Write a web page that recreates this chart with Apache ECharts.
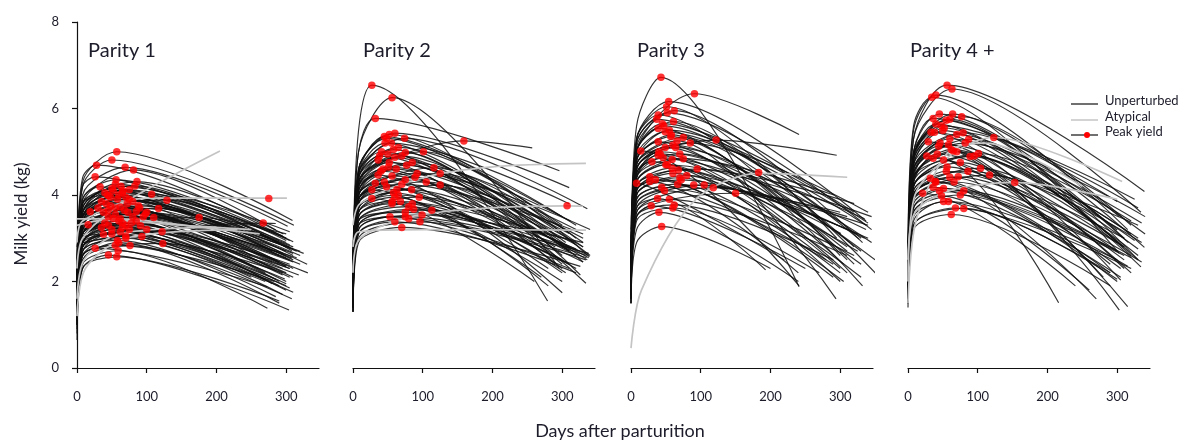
<!DOCTYPE html>
<html>
<head>
<meta charset="utf-8">
<script src="https://cdn.jsdelivr.net/npm/echarts@6/dist/echarts.min.js"></script>
<style>
  html, body { margin: 0; padding: 0; background: #fff; }
  #chart { width: 1193px; height: 442px; }
</style>
</head>
<body>
<div id="chart"></div>
<script>
// Lactation curves, milk yield (kg) against days after parturition.
// Each unperturbed curve: [yield day 0, yield at EARLY_DAY, peak day, peak yield, last day, last yield]
const EARLY_DAY = 8;
const DAY_MAX = 347;
const xTickValues = [0, 100, 200, 300];
const yTickValues = [0, 2, 4, 6, 8];
const panelTitles = ['Parity 1', 'Parity 2', 'Parity 3', 'Parity 4 +'];

const parity1Curves = [
  [2.2, 4.3, 57, 5.0, 309, 3.41], [2.0, 4.2, 50, 4.81, 311, 3.30], [2.5, 4.4, 28, 4.69, 300, 3.0],
  [1.8, 4.0, 69, 4.64, 302, 3.28], [1.6, 3.8, 81, 4.58, 285, 3.19], [2.4, 4.2, 26, 4.42, 290, 2.9],
  [1.7, 3.9, 56, 4.35, 310, 2.92], [1.5, 3.7, 86, 4.31, 296, 3.1], [2.0, 3.9, 33, 4.19, 280, 2.7],
  [1.7, 3.8, 83, 4.21, 308, 2.71], [1.6, 3.6, 107, 4.02, 300, 2.95], [1.4, 3.5, 129, 3.88, 295, 3.05],
  [1.5, 3.5, 117, 3.69, 310, 2.6], [2.6, 3.5, 19, 3.61, 260, 2.3], [1.5, 3.4, 98, 3.56, 308, 2.54],
  [1.4, 3.3, 110, 3.48, 290, 2.45], [1.3, 3.1, 175, 3.48, 300, 3.1], [2.8, 3.3, 16, 3.31, 250, 2.1],
  [1.4, 3.2, 91, 3.29, 331, 2.2], [1.2, 2.9, 122, 3.15, 305, 2.4], [2.0, 3.0, 38, 3.09, 270, 2.0],
  [1.3, 2.8, 93, 3.04, 298, 2.06], [1.5, 2.6, 26, 2.77, 273, 1.88], [1.3, 2.6, 55, 2.84, 283, 2.0],
  [1.1, 2.5, 76, 2.83, 308, 1.6], [1.0, 2.6, 123, 2.88, 295, 2.2], [1.0, 2.4, 59, 2.71, 273, 1.38],
  [0.8, 2.3, 45, 2.61, 304, 1.34], [0.65, 2.3, 57, 2.57, 290, 1.55], [2.5, 2.9, 267, 3.35, 285, 3.34],
  [1.8, 3.6, 40, 4.05, 300, 2.7], [1.7, 3.6, 45, 3.98, 310, 2.5], [1.6, 3.5, 52, 4.1, 305, 2.8],
  [1.9, 3.5, 60, 4.0, 290, 2.6], [1.5, 3.4, 65, 4.05, 300, 2.9], [1.7, 3.4, 70, 3.95, 310, 2.75],
  [1.6, 3.5, 75, 3.9, 295, 2.65], [1.4, 3.3, 80, 3.85, 305, 2.85], [1.8, 3.5, 35, 3.85, 280, 2.45],
  [1.6, 3.4, 42, 3.8, 300, 2.35], [1.5, 3.3, 48, 3.75, 290, 2.4], [1.3, 3.3, 55, 3.7, 305, 2.5],
  [1.7, 3.3, 62, 3.72, 310, 2.3], [1.5, 3.2, 68, 3.65, 285, 2.25], [1.4, 3.2, 73, 3.6, 300, 2.55],
  [1.2, 3.1, 85, 3.62, 310, 2.65], [1.9, 3.3, 30, 3.7, 270, 2.2], [1.6, 3.1, 45, 3.5, 295, 2.15],
  [1.4, 3.0, 52, 3.45, 305, 2.1], [1.3, 3.0, 60, 3.4, 300, 2.2], [1.5, 3.0, 65, 3.35, 280, 1.95],
  [1.2, 2.9, 70, 3.3, 300, 2.0], [1.1, 2.9, 78, 3.35, 310, 2.1], [1.7, 3.1, 40, 3.35, 290, 1.9],
  [1.4, 2.9, 50, 3.2, 305, 1.85], [1.1, 2.8, 62, 3.15, 300, 1.8], [1.3, 2.7, 70, 3.0, 295, 1.7],
  [1.0, 2.7, 58, 2.95, 285, 1.65], [1.8, 3.7, 50, 4.15, 300, 3.0], [1.6, 3.7, 63, 4.2, 305, 3.15],
  [1.5, 3.8, 75, 4.12, 290, 2.95], [2.0, 3.8, 44, 4.0, 250, 2.6], [1.5, 3.2, 88, 3.75, 310, 2.8],
  [1.3, 3.0, 95, 3.5, 300, 2.35], [1.2, 2.8, 100, 3.2, 305, 2.3],
  [1.2, 2.9, 45, 3.3, 300, 1.95], [1.0, 2.7, 50, 3.1, 310, 1.75], [1.4, 3.0, 35, 3.25, 285, 2.05],
  [1.1, 2.8, 65, 3.25, 305, 2.3], [1.3, 3.1, 55, 3.55, 310, 2.45], [1.5, 3.3, 45, 3.65, 300, 2.6],
  [1.2, 3.0, 80, 3.5, 320, 2.4], [1.0, 2.6, 70, 3.05, 300, 1.9], [0.9, 2.5, 60, 2.9, 290, 1.5],
  [1.6, 3.4, 58, 3.9, 320, 2.6], [1.7, 3.6, 66, 4.1, 300, 2.8], [1.4, 3.2, 90, 3.7, 330, 2.4],
  [1.3, 3.1, 100, 3.6, 320, 2.7], [1.2, 2.9, 85, 3.4, 315, 2.55], [1.5, 3.4, 38, 3.6, 295, 2.3],
  [1.6, 3.5, 48, 3.95, 315, 2.7], [1.1, 2.8, 75, 3.2, 318, 2.15], [1.3, 3.0, 62, 3.45, 290, 2.0],
  [1.8, 3.6, 55, 4.25, 305, 2.95], [1.4, 3.3, 72, 3.8, 325, 2.65]
];
const parity1Atypical = [
  [[0, 2.3], [8, 3.0], [60, 3.75], [205, 5.02]],
  [[0, 2.9], [8, 3.4], [100, 3.93], [275, 3.93], [301, 3.93]],
  [[0, 3.3], [40, 3.42], [150, 3.3], [250, 3.2]],
  [[0, 3.45], [60, 3.45], [180, 3.25], [262, 3.1]],
  [[0, 1.6], [10, 2.5], [60, 3.1], [200, 3.25]],
  [[0, 1.2], [12, 2.3], [70, 3.0], [230, 3.2]]
];
const parity1AtypicalPeaks = [[275, 3.92]];

const parity2Curves = [
  [2.5, 5.5, 27, 6.54, 279, 1.55], [2.0, 5.0, 56, 6.25, 296, 2.3], [2.3, 5.0, 32, 5.77, 296, 4.56],
  [2.0, 4.2, 159, 5.25, 257, 5.09], [2.0, 4.6, 60, 5.43, 310, 4.17], [1.8, 4.6, 48, 5.31, 300, 3.3],
  [1.7, 4.5, 74, 5.31, 336, 3.68], [2.1, 4.5, 46, 5.2, 305, 2.9], [1.6, 4.3, 101, 5.0, 339, 2.57],
  [2.0, 4.5, 41, 5.0, 300, 2.6], [1.7, 4.3, 75, 4.98, 326, 2.15], [2.2, 4.4, 36, 4.81, 290, 2.4],
  [1.9, 4.3, 60, 4.87, 334, 1.96], [1.8, 4.1, 51, 4.65, 310, 3.11], [1.6, 4.0, 77, 4.69, 312, 2.77],
  [1.5, 3.9, 116, 4.63, 330, 2.9], [1.4, 3.8, 125, 4.5, 340, 2.6], [2.1, 4.2, 36, 4.46, 300, 1.74],
  [1.8, 4.0, 56, 4.44, 320, 2.85], [1.6, 3.9, 89, 4.41, 310, 2.7], [1.7, 3.9, 75, 4.35, 336, 2.5],
  [2.0, 4.0, 32, 4.27, 280, 2.3], [1.4, 3.6, 125, 4.23, 330, 3.0], [1.8, 3.9, 48, 4.19, 300, 2.2],
  [2.0, 3.9, 27, 4.12, 270, 2.1], [1.7, 3.8, 63, 4.13, 320, 2.6], [1.5, 3.7, 84, 4.12, 338, 2.55],
  [1.9, 3.7, 27, 3.92, 260, 2.0], [1.6, 3.6, 56, 3.85, 310, 2.4], [1.5, 3.4, 80, 3.73, 300, 2.5],
  [1.4, 3.3, 87, 3.67, 325, 2.7], [1.3, 3.3, 113, 3.65, 330, 2.45], [1.6, 3.5, 56, 3.8, 300, 2.0],
  [1.3, 3.2, 99, 3.54, 335, 2.6], [1.5, 3.2, 53, 3.5, 310, 2.3], [1.4, 3.1, 60, 3.38, 320, 2.2],
  [1.3, 3.0, 96, 3.38, 334, 2.5], [1.3, 2.9, 70, 3.25, 326, 2.35], [2.0, 4.5, 45, 5.35, 300, 3.5],
  [1.9, 4.4, 55, 5.2, 310, 3.8], [1.8, 4.4, 65, 5.1, 320, 3.3], [2.1, 4.3, 50, 4.95, 296, 3.0],
  [1.7, 4.2, 70, 4.9, 330, 2.8], [1.6, 4.1, 85, 4.75, 312, 3.4], [2.0, 4.0, 40, 4.55, 290, 2.8],
  [1.9, 3.8, 45, 4.3, 305, 2.45], [1.7, 3.7, 65, 4.0, 320, 2.75], [1.4, 3.5, 95, 3.95, 338, 2.6],
  [1.5, 3.4, 75, 3.6, 330, 2.9],
  [1.9, 4.3, 52, 4.75, 320, 3.2], [1.8, 4.1, 62, 4.6, 300, 2.4], [1.7, 3.9, 70, 4.25, 330, 3.1],
  [1.6, 3.7, 58, 4.05, 305, 2.2], [1.5, 3.5, 68, 3.85, 320, 2.9], [1.4, 3.3, 75, 3.5, 338, 2.65],
  [2.0, 4.4, 38, 4.9, 310, 2.7], [1.8, 4.2, 58, 5.05, 330, 2.45], [1.7, 4.0, 92, 4.5, 340, 3.2],
  [1.6, 3.8, 105, 4.3, 330, 2.8], [1.5, 3.6, 60, 3.95, 280, 1.9], [1.4, 3.4, 85, 3.8, 320, 2.3],
  [1.9, 4.2, 43, 4.6, 300, 2.3], [1.3, 3.1, 80, 3.45, 335, 2.55], [2.1, 4.6, 52, 5.4, 320, 3.0]
];
const parity2Atypical = [
  [[0, 3.3], [10, 3.8], [100, 4.4], [200, 4.65], [334, 4.73]],
  [[0, 2.8], [8, 3.15], [100, 3.2], [334, 3.19]],
  [[0, 2.2], [10, 3.0], [100, 3.55], [307, 3.75], [330, 3.74]]
];
const parity2AtypicalPeaks = [[307, 3.75]];

const parity3Curves = [
  [2.5, 5.6, 43, 6.72, 241, 1.88], [2.0, 5.0, 91, 6.34, 241, 5.4], [2.3, 5.3, 54, 6.16, 337, 3.4],
  [2.2, 5.3, 51, 6.04, 295, 3.0], [2.0, 5.1, 62, 5.95, 332, 2.9], [2.4, 5.3, 39, 5.85, 300, 2.6],
  [2.3, 5.2, 37, 5.75, 327, 2.98], [2.0, 5.0, 61, 5.7, 353, 2.15], [2.2, 5.0, 39, 5.54, 310, 2.5],
  [2.0, 4.9, 49, 5.46, 337, 3.3], [1.9, 4.8, 58, 5.39, 332, 1.9], [1.8, 4.7, 75, 5.33, 320, 2.8],
  [1.9, 4.7, 66, 5.25, 294, 1.6], [2.2, 4.8, 39, 5.23, 305, 2.4], [1.8, 4.6, 122, 5.27, 295, 4.92],
  [3.0, 4.9, 14, 5.02, 241, 1.9], [2.0, 4.6, 49, 5.1, 310, 2.7], [2.1, 4.5, 39, 4.92, 300, 2.3],
  [2.2, 4.5, 30, 4.77, 280, 2.5], [2.0, 4.4, 46, 4.86, 337, 3.2], [1.9, 4.4, 59, 4.82, 310, 2.2],
  [1.8, 4.3, 75, 4.84, 291, 4.0], [1.9, 4.2, 59, 4.62, 301, 3.11], [1.8, 4.1, 68, 4.58, 330, 2.4],
  [1.7, 4.0, 80, 4.45, 335, 3.0], [2.1, 4.2, 27, 4.42, 290, 2.1], [3.2, 4.25, 8, 4.27, 220, 2.5],
  [2.1, 4.1, 27, 4.31, 240, 2.2], [2.0, 4.1, 35, 4.35, 305, 2.0], [1.9, 3.9, 44, 4.18, 320, 2.6],
  [1.8, 3.9, 67, 4.25, 300, 2.2], [1.6, 3.8, 90, 4.23, 340, 3.3], [1.6, 3.7, 105, 4.23, 325, 3.1],
  [1.5, 3.6, 118, 4.17, 310, 3.5], [1.5, 3.5, 150, 4.04, 300, 3.6], [1.9, 3.7, 38, 3.92, 193, 2.27],
  [1.9, 3.5, 29, 3.75, 250, 2.3], [1.7, 3.5, 62, 3.77, 290, 2.5], [1.5, 2.9, 44, 3.27, 200, 2.3],
  [2.2, 5.0, 45, 5.65, 320, 3.6], [2.0, 4.8, 55, 5.5, 340, 3.35], [2.0, 4.6, 60, 5.15, 330, 2.7],
  [1.9, 4.3, 50, 4.7, 345, 3.5], [1.8, 4.0, 70, 4.4, 330, 2.1], [1.8, 4.4, 40, 5.0, 335, 3.45],
  [2.1, 5.0, 47, 5.6, 330, 3.0], [2.0, 4.8, 57, 5.35, 320, 2.4], [1.9, 4.6, 64, 5.1, 345, 2.9],
  [1.9, 4.4, 42, 4.95, 310, 2.8], [1.8, 4.3, 52, 4.7, 300, 2.0], [1.8, 4.1, 60, 4.5, 325, 2.7],
  [1.7, 4.0, 72, 4.35, 340, 3.0], [1.7, 3.8, 48, 4.1, 290, 2.4], [1.6, 3.6, 55, 3.9, 310, 2.6],
  [1.5, 3.4, 60, 3.7, 270, 2.2], [2.2, 5.2, 52, 5.9, 345, 3.2], [2.0, 4.7, 85, 5.2, 340, 3.6],
  [1.9, 4.5, 70, 4.95, 350, 2.5], [1.6, 3.2, 40, 3.6, 240, 2.0], [1.8, 4.2, 95, 4.6, 320, 3.8]
];
const parity3Atypical = [
  [[0, 0.46], [15, 1.8], [92, 3.88], [183, 4.5], [310, 4.41]]
];
const parity3AtypicalPeaks = [[183, 4.52]];

const parity4Curves = [
  [2.3, 5.3, 56, 6.54, 339, 4.08], [2.2, 5.3, 63, 6.45, 334, 3.6], [2.8, 5.6, 34, 6.26, 303, 2.65],
  [2.6, 5.5, 40, 6.31, 315, 3.2], [2.2, 5.0, 36, 5.77, 300, 3.85], [2.1, 5.0, 45, 5.87, 339, 2.79],
  [2.0, 4.9, 64, 5.87, 303, 3.5], [1.9, 4.8, 77, 5.81, 320, 3.3], [2.1, 4.9, 55, 5.73, 310, 3.0],
  [2.3, 4.9, 40, 5.64, 300, 3.19], [2.2, 4.8, 33, 5.45, 305, 2.03], [2.0, 4.7, 50, 5.49, 334, 2.34],
  [1.9, 4.6, 79, 5.44, 330, 3.7], [1.8, 4.5, 87, 5.29, 316, 2.9], [2.3, 4.7, 29, 5.23, 280, 2.1],
  [2.0, 4.6, 44, 5.13, 315, 1.42], [2.0, 4.5, 58, 5.16, 320, 3.1], [1.9, 4.4, 65, 5.02, 303, 1.34],
  [2.2, 4.4, 27, 4.9, 290, 2.4], [2.1, 4.3, 36, 4.85, 300, 2.7], [1.9, 4.3, 51, 4.81, 216, 1.51],
  [1.8, 4.2, 89, 4.89, 330, 3.0], [1.7, 4.2, 101, 4.96, 320, 3.4], [1.9, 4.2, 56, 4.65, 310, 2.5],
  [1.7, 4.0, 104, 4.62, 330, 2.6], [1.6, 3.9, 117, 4.46, 335, 2.9], [2.1, 4.1, 32, 4.39, 290, 2.2],
  [1.9, 4.0, 60, 4.41, 305, 2.3], [1.8, 4.0, 72, 4.42, 310, 2.8], [2.0, 4.0, 39, 4.31, 300, 2.0],
  [1.9, 3.9, 36, 4.18, 310, 2.6], [2.3, 3.9, 21, 4.04, 240, 1.9], [1.8, 3.8, 51, 4.15, 320, 2.55],
  [1.7, 3.7, 80, 4.1, 300, 2.7], [1.7, 3.6, 48, 3.98, 260, 1.8], [1.6, 3.6, 75, 4.0, 315, 2.35],
  [1.6, 3.4, 51, 3.85, 290, 2.2], [1.5, 3.3, 80, 3.69, 300, 2.05], [2.2, 4.9, 48, 5.6, 325, 3.9],
  [2.0, 4.6, 60, 5.3, 335, 3.35], [1.9, 4.4, 70, 5.0, 325, 2.95],
  [2.1, 4.8, 52, 5.55, 320, 2.6], [2.0, 4.7, 70, 5.4, 340, 3.1], [1.9, 4.5, 46, 5.2, 310, 2.3],
  [1.9, 4.4, 62, 5.05, 330, 2.75], [1.8, 4.3, 42, 4.95, 300, 2.9], [1.8, 4.2, 75, 4.75, 320, 2.2],
  [1.7, 4.0, 55, 4.55, 310, 3.0], [1.7, 3.9, 66, 4.3, 335, 2.45], [1.6, 3.7, 45, 4.1, 305, 2.1],
  [1.6, 3.5, 58, 3.85, 300, 2.5], [1.5, 3.3, 68, 3.7, 320, 2.3], [2.2, 5.0, 60, 5.75, 330, 2.5],
  [2.0, 4.6, 82, 5.2, 340, 3.5], [1.9, 4.4, 95, 4.9, 330, 2.5], [1.4, 3.2, 62, 3.55, 290, 1.9],
  [2.1, 4.9, 38, 5.45, 310, 2.8], [1.8, 4.1, 86, 4.55, 330, 3.3], [1.7, 4.0, 40, 4.3, 270, 1.6]
];
const parity4Atypical = [
  [[0, 2.0], [10, 4.0], [123, 5.33], [307, 4.31]],
  [[0, 2.5], [10, 3.6], [60, 4.1], [153, 4.29], [300, 3.9]],
  [[0, 1.5], [10, 3.3], [41, 4.58], [65, 5.08], [110, 5.2], [250, 4.2]]
];
const parity4AtypicalPeaks = [[123, 5.33], [153, 4.29]];

const FONT = 'Lato, "Noto Sans", sans-serif';
const TEXT_COLOR = '#1c1c2a';
const LINE_COLOR = 'rgba(15,15,15,0.85)';
const ATYPICAL_COLOR = '#c4c4c4';
const PEAK_COLOR = '#ff0000';
const SMOOTHNESS = 0.3;

const panels = [
  { curves: parity1Curves, atypical: parity1Atypical, atypicalPeaks: parity1AtypicalPeaks },
  { curves: parity2Curves, atypical: parity2Atypical, atypicalPeaks: parity2AtypicalPeaks },
  { curves: parity3Curves, atypical: parity3Atypical, atypicalPeaks: parity3AtypicalPeaks },
  { curves: parity4Curves, atypical: parity4Atypical, atypicalPeaks: parity4AtypicalPeaks }
];
const gridLefts = [77, 353, 631, 908];
const titleLefts = [88, 363, 637, 910];

function curvePoints(c) {
  const pts = [[0, c[0]]];
  if (c[2] > EARLY_DAY + 2) pts.push([EARLY_DAY, c[1]]);
  pts.push([c[2], c[3]]);
  pts.push([c[4], c[5]]);
  return pts;
}

const grid = [], xAxis = [], yAxis = [], series = [];
panels.forEach((p, i) => {
  grid.push({ left: gridLefts[i], top: 22, width: 242, height: 346 });
  xAxis.push({
    gridIndex: i, type: 'value', min: 0, max: DAY_MAX, interval: 100, offset: 13,
    axisLine: { lineStyle: { color: '#111', width: 1.2 } },
    axisTick: { length: 5, lineStyle: { color: '#111', width: 1.2 }, customValues: xTickValues },
    axisLabel: { customValues: xTickValues, fontSize: 13, color: TEXT_COLOR, margin: 9, fontFamily: FONT },
    splitLine: { show: false }
  });
  yAxis.push({
    gridIndex: i, type: 'value', min: 0, max: 8, interval: 2, offset: 10,
    show: i === 0,
    axisLine: { show: true, lineStyle: { color: '#111', width: 1.2 } },
    axisTick: { show: true, length: 5, lineStyle: { color: '#111', width: 1.2 }, customValues: yTickValues },
    axisLabel: { customValues: yTickValues, fontSize: 13, color: TEXT_COLOR, margin: 8, fontFamily: FONT },
    splitLine: { show: false }
  });
  p.curves.forEach(c => {
    series.push({
      type: 'line', name: 'Unperturbed', xAxisIndex: i, yAxisIndex: i,
      data: curvePoints(c), smooth: SMOOTHNESS, showSymbol: false, symbol: 'none', silent: true,
      lineStyle: { color: LINE_COLOR, width: 1.15 }, z: 2
    });
  });
  p.atypical.forEach(pts => {
    series.push({
      type: 'line', name: 'Atypical', xAxisIndex: i, yAxisIndex: i,
      data: pts, smooth: SMOOTHNESS, showSymbol: false, symbol: 'none', silent: true,
      lineStyle: { color: ATYPICAL_COLOR, width: 1.7 }, z: 3
    });
  });
  series.push({
    type: 'scatter', name: 'Peak yield', xAxisIndex: i, yAxisIndex: i,
    data: p.curves.map(c => [c[2], c[3]]).concat(p.atypicalPeaks),
    symbol: 'circle', symbolSize: 7.5, silent: true,
    itemStyle: { color: PEAK_COLOR }, z: 4
  });
});

const graphic = [];
panelTitles.forEach((t, i) => {
  graphic.push({ type: 'text', left: titleLefts[i], top: 41,
    style: { text: t, font: '20px ' + FONT, fill: TEXT_COLOR } });
});
graphic.push({ type: 'text', x: 22, y: 214, rotation: Math.PI / 2,
  style: { text: 'Milk yield (kg)', font: '17px ' + FONT, fill: TEXT_COLOR, align: 'center', verticalAlign: 'middle' } });
graphic.push({ type: 'text', x: 620, y: 431,
  style: { text: 'Days after parturition', font: '18px ' + FONT, fill: TEXT_COLOR, align: 'center', verticalAlign: 'middle' } });

// legend
const legendItems = [
  { label: 'Unperturbed', color: '#222', width: 1.3, y: 104, dot: false },
  { label: 'Atypical', color: ATYPICAL_COLOR, width: 1.5, y: 120, dot: false },
  { label: 'Peak yield', color: '#222', width: 1.3, y: 135, dot: true }
];
legendItems.forEach(item => {
  graphic.push({ type: 'line', shape: { x1: 1071, y1: item.y, x2: 1098, y2: item.y },
    style: { stroke: item.color, lineWidth: item.width } });
  if (item.dot) {
    graphic.push({ type: 'circle', shape: { cx: 1087, cy: item.y, r: 3 }, style: { fill: PEAK_COLOR } });
  }
  graphic.push({ type: 'text', x: 1105, y: item.y - 3,
    style: { text: item.label, font: '13px ' + FONT, fill: TEXT_COLOR, verticalAlign: 'middle' } });
});

const chart = echarts.init(document.getElementById('chart'), null, { renderer: 'canvas' });
chart.setOption({
  animation: false,
  backgroundColor: '#fff',
  grid, xAxis, yAxis, series, graphic
});
</script>
</body>
</html>
